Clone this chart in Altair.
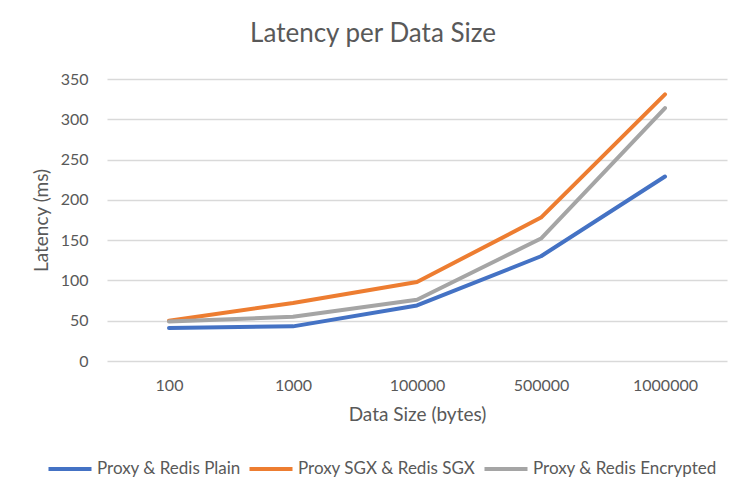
import altair as alt
import pandas as pd

sizes = ["100", "1000", "100000", "500000", "1000000"]
series = ["Proxy & Redis Plain", "Proxy SGX & Redis SGX", "Proxy & Redis Encrypted"]
plain = [41, 43, 69, 130, 229]
sgx = [50, 72, 98, 178, 331]
encrypted = [49, 55, 76, 152, 314]
colors = ["#4472C4", "#ED7D31", "#A5A5A5"]

rows = []
for name, vals in zip(series, [plain, sgx, encrypted]):
    for s, v in zip(sizes, vals):
        rows.append({"size": s, "latency": v, "series": name})
df = pd.DataFrame(rows)

FONT = "Lato"
GREY = "#595959"

chart = alt.Chart(df).mark_line(strokeWidth=4, strokeCap="round", strokeJoin="round").encode(
    x=alt.X("size:N", sort=sizes, scale=alt.Scale(padding=0.5),
            axis=alt.Axis(title="Data Size (bytes)", labelAngle=0, ticks=False, domain=False,
                          grid=False, labelPadding=16, titlePadding=12,
                          labelFontSize=16, titleFontSize=19, labelColor=GREY, titleColor=GREY,
                          labelFont=FONT, titleFont=FONT, titleFontWeight="normal")),
    y=alt.Y("latency:Q", scale=alt.Scale(domain=[0, 350], nice=False),
            axis=alt.Axis(title="Latency (ms)", values=[0, 50, 100, 150, 200, 250, 300, 350],
                          ticks=False, domain=False, gridColor="#D9D9D9", gridWidth=1.3,
                          labelPadding=19, titlePadding=9,
                          labelFontSize=16, titleFontSize=19, labelColor=GREY, titleColor=GREY,
                          labelFont=FONT, titleFont=FONT, titleFontWeight="normal")),
    color=alt.Color("series:N", sort=series,
                    scale=alt.Scale(domain=series, range=colors),
                    legend=alt.Legend(title=None, orient="none", direction="horizontal",
                                      legendX=-61, legendY=366,
                                      symbolType="stroke", symbolSize=1850, symbolStrokeWidth=4,
                                      labelFontSize=17, labelColor=GREY, labelFont=FONT,
                                      labelLimit=400, labelOffset=3, columnPadding=0)),
    order=alt.Order("series:N"),
).properties(
    width=620, height=282,
    title=alt.Title("Latency per Data Size", fontSize=26, font=FONT, color=GREY,
                    fontWeight="normal", offset=24, dx=-44),
    autosize=alt.AutoSizeParams(type="none"),
    padding={"left": 99, "top": 71, "right": 15, "bottom": 135},
).configure_view(stroke=None)

chart.save("out.html", embed_options={"renderer": "svg", "actions": False})
